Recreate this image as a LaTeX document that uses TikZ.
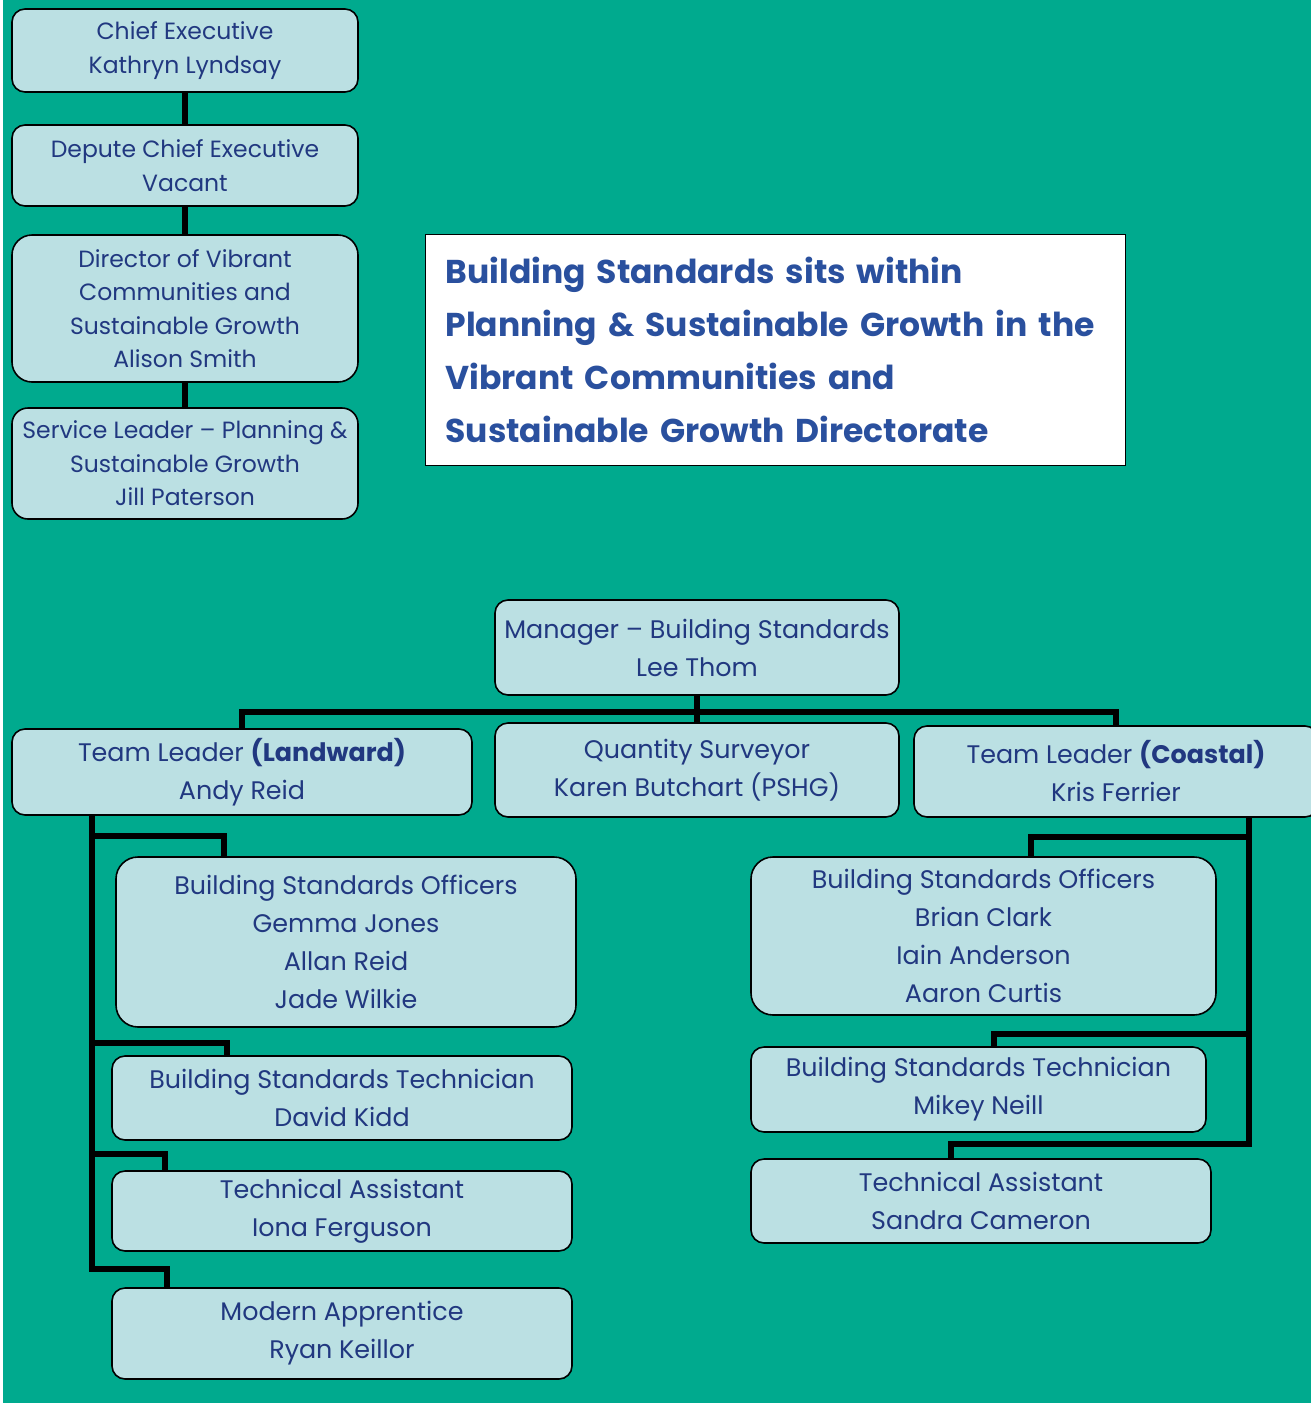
\documentclass[tikz,border=0pt]{standalone}
\usepackage{fontspec}
\setmainfont{Poppins}
\usetikzlibrary{positioning,calc}
\definecolor{bsteal}{RGB}{0,170,142}
\definecolor{bsbox}{RGB}{187,224,227}
\definecolor{bsnavy}{RGB}{33,56,128}
\definecolor{bstitle}{RGB}{42,80,158}

\begin{document}
\begin{tikzpicture}[x=1pt,y=-1pt,
      post/.style={draw=black,line width=1.6pt,fill=bsbox,rounded corners=13pt,
        align=center,text=bsnavy,inner sep=0pt,
        font=\fontsize{23.5}{33.5}\selectfont},
      staff/.style={post,font=\fontsize{25.4}{38}\selectfont},
      link/.style={line width=5.5pt}]
      % page
      \useasboundingbox (0,0) rectangle (1311,1403);
      \fill[white] (0,0) rectangle (1311,1403);
      \fill[bsteal] (3,0) rectangle (1311,1403);
      % council chain
      \node[post,minimum width=346pt,minimum height=83pt] (chief) at (185,50.5)
        {Chief Executive\\Kathryn Lyndsay};
      \node[post,minimum width=346pt,minimum height=81pt] (depute) at (185,165.5)
        {Depute Chief Executive\\Vacant};
      \node[post,rounded corners=20pt,minimum width=346pt,minimum height=147pt] (director) at (185,308.5)
        {Director of Vibrant\\Communities and\\Sustainable Growth\\Alison Smith};
      \node[post,rounded corners=16pt,minimum width=346pt,minimum height=111pt] (service) at (185,463.5)
        {Service Leader -- Planning \&\\Sustainable Growth\\Jill Paterson};
      \draw[link] (chief) -- (depute) -- (director) -- (service);
      % caption box
      \node[draw=black,line width=1.2pt,fill=white,text=bstitle,align=left,
        text width=660pt,inner xsep=20pt,inner ysep=0pt,minimum height=231pt,
        anchor=north west,font=\fontsize{33}{53}\selectfont\bfseries] (caption) at (425,234)
        {Building Standards sits within\\Planning \& Sustainable Growth in the\\
         Vibrant Communities and\\Sustainable Growth Directorate};
      % building standards
      \node[staff,minimum width=404pt,minimum height=95pt] (manager) at (697,647.5)
        {Manager -- Building Standards\\Lee Thom};
      \node[staff,minimum width=460pt,minimum height=86pt] (landward) at (242,772)
        {Team Leader \textbf{(Landward)}\\Andy Reid};
      \node[staff,minimum width=404pt,minimum height=94pt] (qs) at (697,770)
        {Quantity Surveyor\\Karen Butchart (PSHG)};
      \node[staff,minimum width=404pt,minimum height=91pt] (coastal) at (1116,771.5)
        {Team Leader \textbf{(Coastal)}\\Kris Ferrier};
      \coordinate (bar) at (697,712);
      \draw[link] (manager) -- (qs);
      \draw[link] (landward.north) |- (bar) -| (coastal.north);
      % landward team
      \node[staff,rounded corners=22pt,minimum width=460pt,minimum height=170pt] (lbso) at (346,942)
        {Building Standards Officers\\Gemma Jones\\Allan Reid\\Jade Wilkie};
      \node[staff,minimum width=460pt,minimum height=84pt] (lbst) at (342,1098)
        {Building Standards Technician\\David Kidd};
      \node[staff,minimum width=460pt,minimum height=80pt] (lta) at (342,1211)
        {Technical Assistant\\Iona Ferguson};
      \node[staff,minimum width=460pt,minimum height=91pt] (lma) at (342,1333.5)
        {Modern Apprentice\\Ryan Keillor};
      \coordinate (lt) at (92,0);
      \draw[link] (landward.south -| lt) -- ([yshift=18pt]lma.north -| lt)
        -| ([xshift=56pt]lma.north west);
      \draw[link] ([yshift=20pt]lbso.north -| lt) -| ([xshift=109pt]lbso.north west);
      \draw[link] ([yshift=12pt]lbst.north -| lt) -| ([xshift=116pt]lbst.north west);
      \draw[link] ([yshift=16pt]lta.north -| lt) -| ([xshift=54pt]lta.north west);
      % coastal team
      \node[staff,rounded corners=22pt,minimum width=465pt,minimum height=158pt] (rbso) at (983.5,936)
        {Building Standards Officers\\Brian Clark\\Iain Anderson\\Aaron Curtis};
      \node[staff,minimum width=455pt,minimum height=85pt] (rbst) at (978.5,1089.5)
        {Building Standards Technician\\Mikey Neill};
      \node[staff,minimum width=460pt,minimum height=84pt] (rta) at (981,1201)
        {Technical Assistant\\Sandra Cameron};
      \coordinate (rt) at (1249,0);
      \draw[link] (coastal.south -| rt) -- ([yshift=14pt]rta.north -| rt)
        -| ([xshift=201pt]rta.north west);
      \draw[link] ([yshift=19pt]rbso.north -| rt) -| ([xshift=281pt]rbso.north west);
      \draw[link] ([yshift=12pt]rbst.north -| rt) -| ([xshift=244pt]rbst.north west);
    \end{tikzpicture}
\end{document}
